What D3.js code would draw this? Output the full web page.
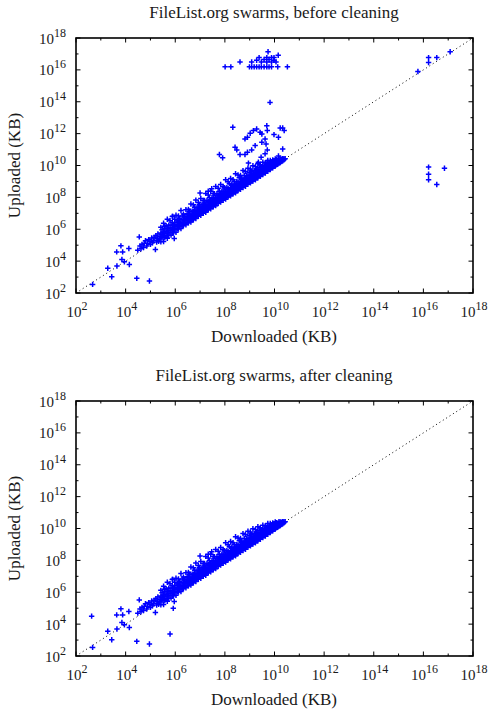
<!DOCTYPE html>
<html><head><meta charset="utf-8">
<script src="https://cdn.jsdelivr.net/npm/d3@7"></script>
<style>body{margin:0;background:#fff}svg{display:block}</style>
</head><body>
<svg id="c" width="490" height="709"></svg>
<script>
const titles = ["FileList.org swarms, before cleaning", "FileList.org swarms, after cleaning"];
const xLabel = "Downloaded (KB)";
const yLabel = "Uploaded (KB)";
const majorExp = [2, 4, 6, 8, 10, 12, 14, 16, 18];
const minorExp = [3, 5, 7, 9, 11, 13, 15, 17];

// all values are log10(KB): [downloaded, uploaded]
const sparseLow = [
  [2.67,2.54],[3.44,3.02],[3.28,3.55],[3.65,3.69],[3.64,4.58],[3.88,4.58],[3.81,4.96],[4.13,4.79],
  [3.85,4.1],[3.95,3.96],[4.15,3.79],[4.45,2.92],[4.96,2.75]
];
const bandStart = [
  [4.49,4.69],[4.55,5.52],[4.58,4.95],[4.62,4.78],[4.66,5.05],[4.72,4.85],[4.8,5.28],[4.88,5.12],[4.93,5.35],
  [5.0,5.05],[5.05,5.45],[5.12,5.3],[5.2,4.73],[5.22,5.6],[5.28,5.4],[5.33,5.25],[5.38,5.55],
  [4.75,5.1],[4.85,4.95],[4.98,5.25],[5.08,5.15],[5.15,5.5],[5.25,5.2],[5.3,5.7],[5.36,5.4],
  [5.56,6.19],[5.9,6.81],[5.96,5.42],[7.0,8.27],[7.33,8.39],[7.47,8.54]
];
// columns: [downloaded, [uploaded...]]
const bandCols = [
  [5.42,[5.22,5.52,5.77,6.12]],[5.47,[5.47,5.69,5.97]],[5.53,[5.23,5.58,5.83,6.38]],[5.58,[5.48,5.73,6.03]],
  [5.63,[5.58,5.88,6.23]],[5.68,[5.43,5.76,6.06,6.63]],[5.74,[5.62,5.92,6.26]],[5.79,[5.81,6.09,6.54]],
  [5.83,[5.63,5.93,6.25]],[5.88,[5.8,6.08,6.43,6.8]],[5.93,[5.78,5.98,6.26]],[5.98,[5.98,6.23,6.63]],
  [6.03,[5.81,6.15,6.43,6.88]],[6.08,[6.03,6.28,6.58]],[6.13,[6.01,6.21,6.45,6.83]],[6.18,[6.18,6.4,6.66]],
  [6.23,[6.05,6.33,6.59,7.18]],[6.28,[6.22,6.43,6.83]],[6.33,[6.23,6.38,6.61,6.95]],[6.38,[6.38,6.58,6.8]],
  [6.43,[6.28,6.53,6.78,7.23]],[6.48,[6.44,6.66,6.98]],
  [6.53,[6.41,6.56,6.73,6.91,7.25]],[6.58,[6.53,6.68,6.86,7.13]],[6.63,[6.45,6.63,6.78,6.96,7.58]],
  [6.68,[6.6,6.75,6.92,7.14]],[6.73,[6.59,6.75,6.91,7.13,7.53]],[6.78,[6.75,6.9,7.08,7.38]],
  [6.83,[6.67,6.83,6.97,7.17,7.83]],[6.88,[6.81,6.96,7.13,7.38]],[6.93,[6.81,6.97,7.13,7.35,7.68]],
  [6.98,[6.96,7.12,7.3,7.56]],[7.03,[6.88,7.03,7.19,7.39,7.93]],[7.08,[7.02,7.18,7.35,7.56]],
  [7.13,[7.0,7.16,7.34,7.57,7.81]],[7.18,[7.14,7.3,7.48,7.8]],[7.23,[7.07,7.23,7.38,7.58,8.25]],
  [7.28,[7.21,7.36,7.54,7.8]],[7.33,[7.22,7.38,7.53,7.73,8.15]],[7.38,[7.36,7.51,7.69,7.98]],
  [7.43,[7.29,7.44,7.6,7.8,8.38]],[7.48,[7.43,7.58,7.76,7.98]],[7.53,[7.41,7.57,7.75,7.98,8.25]],
  [7.58,[7.55,7.7,7.88,8.23]],[7.63,[7.48,7.63,7.79,7.99,8.68]],[7.68,[7.62,7.77,7.94,8.23]],
  [7.73,[7.63,7.78,7.94,8.15,8.58]],[7.78,[7.76,7.91,8.1,8.38]],[7.83,[7.7,7.85,8.01,8.21,8.81]],
  [7.88,[7.83,7.98,8.15,8.38]],[7.93,[7.82,7.97,8.13,8.37,8.68]],[7.98,[7.95,8.1,8.28,8.6]],
  [8.03,[7.89,8.03,8.19,8.39,9.11]],[8.08,[8.02,8.17,8.33,8.6]],[8.13,[8.03,8.18,8.33,8.55,8.98]],
  [8.18,[8.16,8.3,8.48,8.86]],[8.23,[8.1,8.24,8.4,8.61,9.18]],[8.28,[8.23,8.38,8.54,8.83]],
  [8.33,[8.22,8.37,8.53,8.73,9.11]],[8.38,[8.35,8.5,8.68,9.0]],[8.43,[8.29,8.43,8.58,8.78,9.48]],
  [8.48,[8.42,8.56,8.73,8.98]],[8.53,[8.43,8.58,8.73,8.96,9.41]],[8.58,[8.56,8.7,8.86,9.23]],
  [8.63,[8.51,8.65,8.8,9.01,9.38]],[8.68,[8.63,8.78,8.94,9.2]],[8.73,[8.62,8.76,8.92,9.13,9.68]],
  [8.78,[8.75,8.9,9.08,9.38]],[8.83,[8.7,8.83,8.98,9.18,9.63]],[8.88,[8.83,8.97,9.13,9.38]],
  [8.93,[8.83,8.97,9.13,9.35,9.83]],[8.98,[8.96,9.09,9.26,9.56]],
  [9.03,[8.91,9.05,9.19,9.39,9.78]],[9.08,[9.03,9.17,9.33,9.63]],[9.13,[9.03,9.17,9.31,9.51,9.98]],
  [9.18,[9.15,9.28,9.44,9.68]],[9.23,[9.11,9.24,9.38,9.57,9.93]],[9.28,[9.23,9.36,9.5,9.76]],
  [9.33,[9.23,9.36,9.5,9.69,10.11]],[9.38,[9.36,9.48,9.62,9.88]],[9.43,[9.32,9.45,9.58,9.75,10.05]],
  [9.48,[9.44,9.56,9.7,9.93]],[9.53,[9.43,9.56,9.69,9.86,10.21]],[9.58,[9.55,9.67,9.8,10.0]],
  [9.63,[9.53,9.65,9.77,9.93,10.18]],[9.68,[9.64,9.76,9.88,10.08]],[9.73,[9.64,9.76,9.88,10.03,10.31]],
  [9.78,[9.75,9.86,9.98,10.16]],[9.83,[9.75,9.86,9.97,10.11,10.31]],[9.88,[9.85,9.96,10.06,10.23]],
  [9.93,[9.85,9.95,10.05,10.18,10.35]],[9.98,[9.95,10.05,10.15,10.3]],[10.03,[9.96,10.05,10.15,10.27,10.41]],
  [10.08,[10.05,10.14,10.23,10.36]],[10.13,[10.07,10.15,10.23,10.33]],[10.18,[10.15,10.23,10.31,10.42]],
  [10.23,[10.18,10.25,10.33,10.41]],[10.28,[10.25,10.33,10.4]],[10.33,[10.29,10.36,10.43]],
  [10.38,[10.36,10.43]],[10.43,[10.43]]
];
const beforeOnly = [
  [8.01,16.19],[8.24,16.19],[8.61,16.5],[8.99,16.19],[9.08,16.19],[9.18,16.19],[9.28,16.19],[9.38,16.19],
  [9.47,16.19],[9.58,16.19],[9.69,16.19],[9.78,16.19],[9.88,16.19],[10.13,16.19],[10.52,16.19],
  [9.08,16.5],[9.28,16.6],[9.47,16.5],[9.58,16.65],[9.69,16.5],[9.78,16.65],[9.88,16.5],[9.98,16.6],[10.06,16.5],
  [9.38,16.77],[9.69,16.77],[9.88,16.77],[9.98,16.77],[9.74,17.14],[10.15,16.92],[9.82,13.96],
  [8.32,12.4],[8.81,11.67],[8.91,11.77],[9.02,12.02],[9.15,12.19],[9.28,12.29],[9.42,12.08],[9.49,11.98],
  [9.69,12.5],[9.71,12.19],[9.62,11.67],[9.49,11.46],[9.98,11.94],[10.16,11.77],[10.23,12.35],[10.33,12.35],
  [10.39,12.19],[10.33,11.04],[8.41,11.15],[8.48,10.98],[8.61,10.69],[8.81,10.69],[8.91,10.83],[9.08,10.98],
  [9.22,11.25],[9.46,10.52],[9.62,10.73],[9.71,10.98],[9.66,11.35],[7.78,10.69],[7.91,10.48],[9.35,10.21],
  [9.71,10.21],[8.95,10.15],[10.16,10.6],
  [16.21,16.77],[16.21,16.46],[16.54,16.77],[15.78,15.9],[17.08,17.14],
  [16.21,9.9],[16.21,9.45],[16.21,9.11],[16.54,8.81],[16.85,9.83]
];
const afterOnly = [[2.63,4.5],[5.79,3.38],[5.92,4.99]];

const bandPts = bandStart.concat(bandCols.flatMap(([x, ys]) => ys.map(y => [x, y])));
const panels = [
  {title: titles[0], top: 38, bottom: 293, pts: sparseLow.concat(bandPts, beforeOnly)},
  {title: titles[1], top: 401, bottom: 656, pts: sparseLow.concat(bandPts, afterOnly)}
];

const svg = d3.select("#c");
const left = 76, right = 473;
const FONT = "'Liberation Serif','Times New Roman',serif";
const BLUE = "#0000ff";
const INK = "#1a1a1a";

panels.forEach(p => {
  const x = d3.scaleLog().domain([1e2, 1e18]).range([left, right]);
  const y = d3.scaleLog().domain([1e2, 1e18]).range([p.bottom, p.top]);
  const g = svg.append("g");

  g.append("text").attr("x", 274).attr("y", p.top - 20)
    .attr("text-anchor", "middle").attr("font-family", FONT).attr("font-size", 17)
    .attr("fill", INK).text(p.title);

  g.append("line")
    .attr("x1", x(1e2)).attr("y1", y(1e2)).attr("x2", x(1e18)).attr("y2", y(1e18))
    .attr("stroke", "#000").attr("stroke-width", 1).attr("stroke-dasharray", "1,3");

  g.append("g").selectAll("path").data(p.pts).join("path")
    .attr("transform", d => `translate(${x(Math.pow(10, d[0]))},${y(Math.pow(10, d[1]))})`)
    .attr("d", "M-2.7,0H2.7M0,-2.7V2.7")
    .attr("stroke", BLUE).attr("stroke-width", 1.5).attr("fill", "none");

  const tk = g.append("g").attr("stroke", "#000").attr("stroke-width", 1);
  const drawTicks = (exps, len) => {
    exps.forEach(e => {
      const v = Math.pow(10, e);
      tk.append("line").attr("x1", x(v)).attr("x2", x(v)).attr("y1", p.bottom).attr("y2", p.bottom - len);
      tk.append("line").attr("x1", x(v)).attr("x2", x(v)).attr("y1", p.top).attr("y2", p.top + len);
      tk.append("line").attr("y1", y(v)).attr("y2", y(v)).attr("x1", left).attr("x2", left + len);
      tk.append("line").attr("y1", y(v)).attr("y2", y(v)).attr("x1", right).attr("x2", right - len);
    });
  };
  drawTicks(majorExp, 4.5);
  drawTicks(minorExp, 2.5);

  g.append("rect").attr("x", left).attr("y", p.top).attr("width", right - left).attr("height", p.bottom - p.top)
    .attr("fill", "none").attr("stroke", "#000").attr("stroke-width", 1.6);

  majorExp.forEach(e => {
    const v = Math.pow(10, e);
    const tx = g.append("text").attr("x", x(v) + 1).attr("y", p.bottom + 24)
      .attr("text-anchor", "middle").attr("font-family", FONT).attr("font-size", 15).attr("fill", INK);
    tx.append("tspan").text("10");
    tx.append("tspan").attr("dy", -7).attr("font-size", 12).text(e);
    const ty = g.append("text").attr("x", 66).attr("y", y(v) + 5.5)
      .attr("text-anchor", "end").attr("font-family", FONT).attr("font-size", 15).attr("fill", INK);
    ty.append("tspan").text("10");
    ty.append("tspan").attr("dy", -7).attr("font-size", 12).text(e);
  });

  g.append("text").attr("x", 274).attr("y", p.bottom + 49)
    .attr("text-anchor", "middle").attr("font-family", FONT).attr("font-size", 17).attr("fill", INK).text(xLabel);
  g.append("text").attr("transform", `translate(20,${(p.top + p.bottom) / 2}) rotate(-90)`)
    .attr("text-anchor", "middle").attr("font-family", FONT).attr("font-size", 17).attr("fill", INK).text(yLabel);
});
</script>
</body></html>
